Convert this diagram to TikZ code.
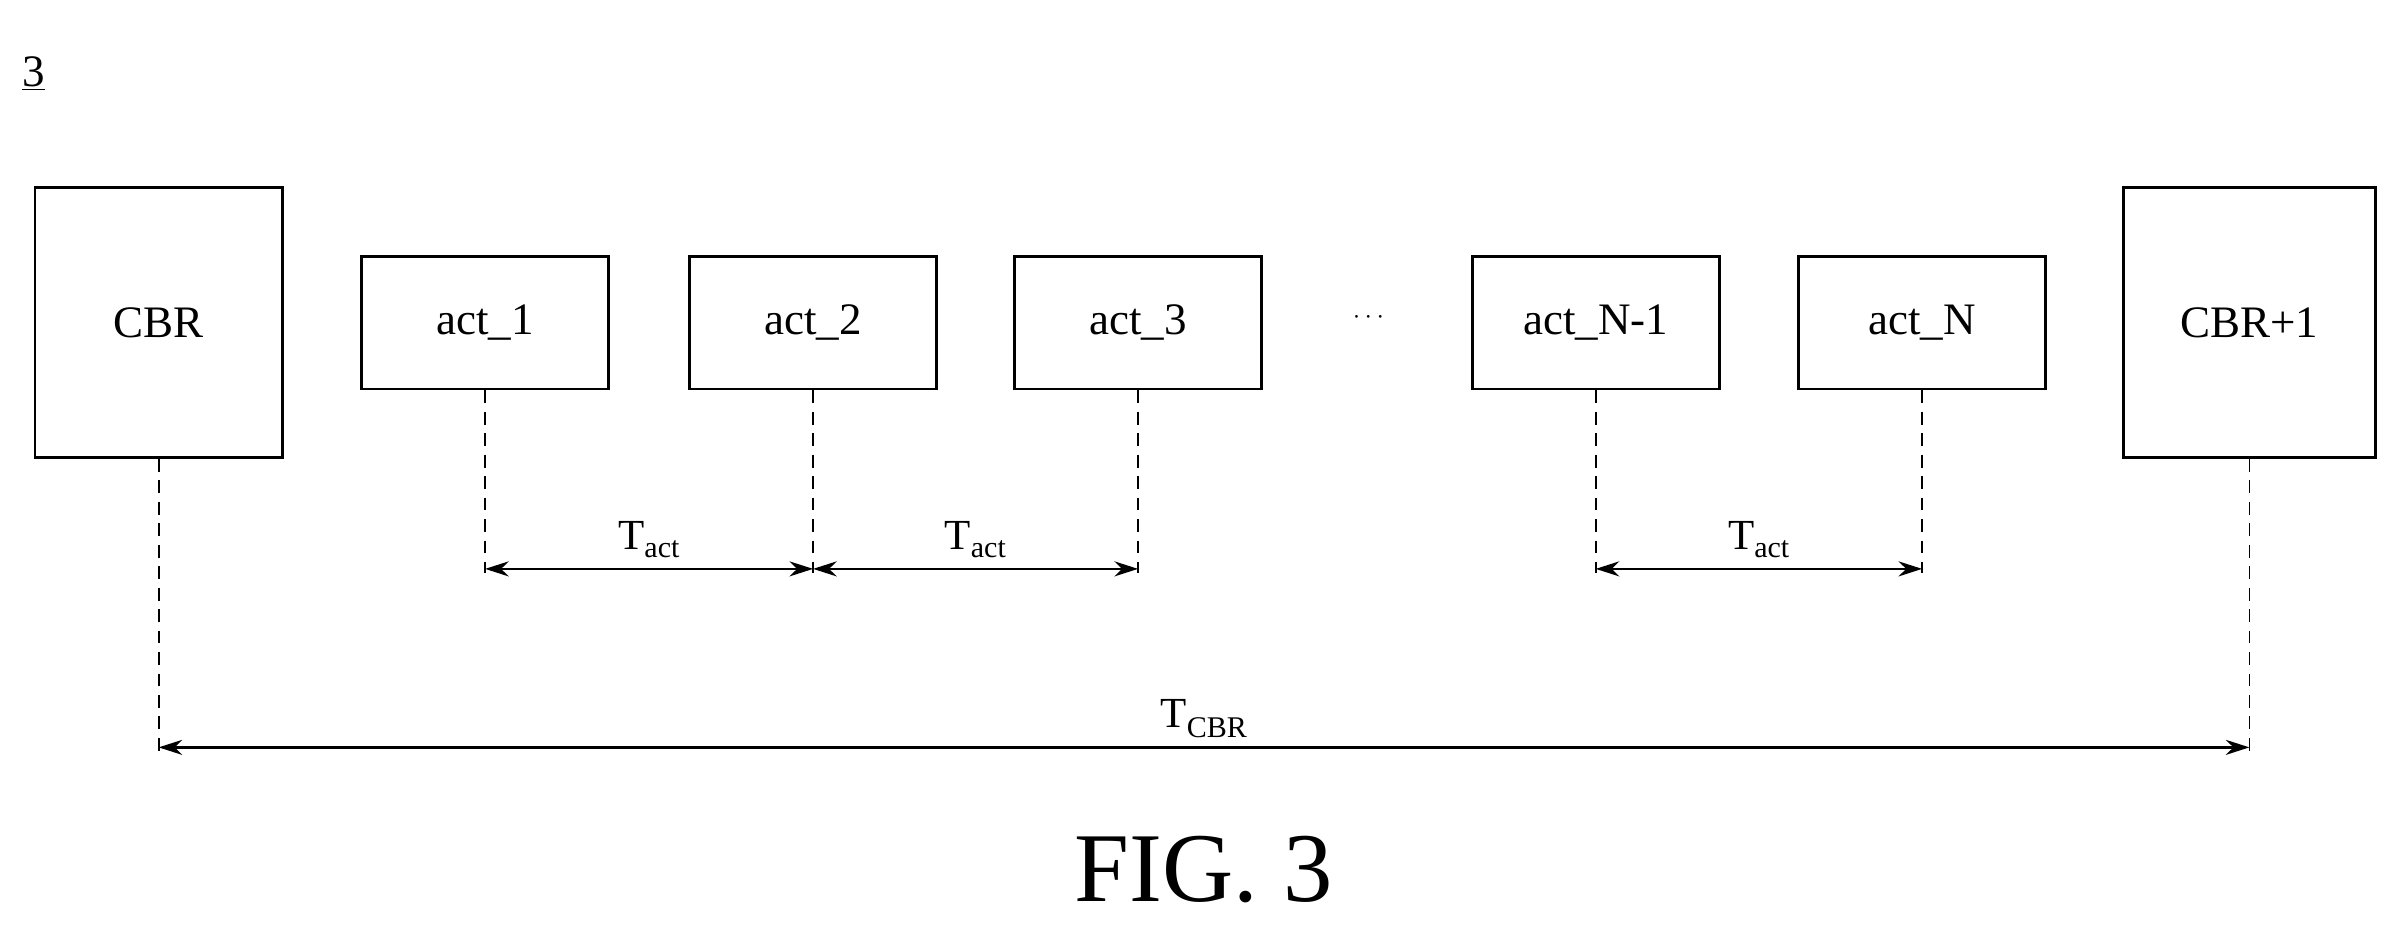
\documentclass[tikz,border=0pt]{standalone}
\usepackage{fontspec}
\setmainfont{Liberation Serif}
\usetikzlibrary{arrows.meta}
\begin{document}
\begin{tikzpicture}[x=0.05cm,y=-0.05cm,
  box/.style={draw,line width=2.6pt,inner sep=0pt,font=\fontsize{42}{48}\selectfont},
  dln/.style={line width=1.6pt,dash pattern=on 12pt off 8pt},
  dim/.style={line width=2.4pt,{Stealth[length=22pt,width=14pt]}-{Stealth[length=22pt,width=14pt]}},
  lab/.style={font=\fontsize{40}{46}\selectfont}]
\useasboundingbox (0,0) rectangle (1568,606);
\node[anchor=base west,font=\fontsize{42}{48}\selectfont] (num) at (12,57) {\underline{3}};
\node[box,minimum width=162*0.05cm,minimum height=177*0.05cm] (cbr) at (104,211.5) {CBR};
\node[box,minimum width=165*0.05cm,minimum height=177*0.05cm] (cbr1) at (1474.5,211.5) {CBR+1};
\foreach \n/\x/\t in {a1/318/act\_1,a2/533/act\_2,a3/746/act\_3,an1/1046/act\_N-1,an/1260/act\_N}
  \node[box,minimum width=162*0.05cm,minimum height=87*0.05cm] (\n) at (\x,211.5) {\t};
\node[font=\fontsize{42}{48}\selectfont] (dots) at (897,208) {$\cdots$};
\foreach \n in {a1,a2,a3,an1,an} {
  \coordinate (\n d) at ([yshift=-120*0.05cm]\n.south);
  \draw[dln] (\n.south) -- (\n d);
}
\coordinate (cbrd) at ([yshift=-192*0.05cm]cbr.south);
\coordinate (cbr1d) at ([yshift=-192*0.05cm]cbr1.south);
\draw[dln] (cbr.south) -- (cbrd);
\draw[dln] (cbr1.south) -- (cbr1d);
\coordinate (p1) at ([yshift=-117*0.05cm]a1.south);
\coordinate (p2) at ([yshift=-117*0.05cm]a2.south);
\coordinate (p3) at ([yshift=-117*0.05cm]a3.south);
\coordinate (p4) at ([yshift=-117*0.05cm]an1.south);
\coordinate (p5) at ([yshift=-117*0.05cm]an.south);
\draw[dim] (p1) -- node[lab,above=6pt] {T\textsubscript{act}} (p2);
\draw[dim] (p2) -- node[lab,above=6pt] {T\textsubscript{act}} (p3);
\draw[dim] (p4) -- node[lab,above=6pt] {T\textsubscript{act}} (p5);
\coordinate (q1) at ([yshift=-189*0.05cm]cbr.south);
\coordinate (q2) at ([yshift=-189*0.05cm]cbr1.south);
\draw[dim] (q1) -- node[lab,above=4pt] {T\textsubscript{CBR}} (q2);
\node[font=\fontsize{92}{100}\selectfont] (fig) at (789,570) {FIG. 3};
\end{tikzpicture}
\end{document}
